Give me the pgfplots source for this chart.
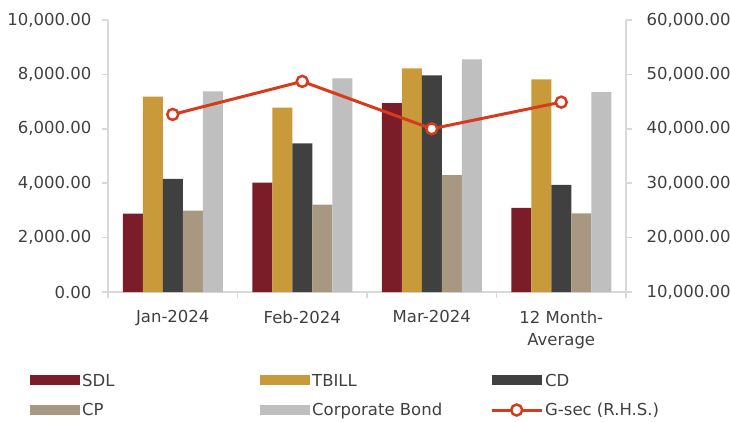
\documentclass[border=0pt]{standalone}
\usepackage{pgfplots}
\pgfplotsset{compat=1.18}
\usepackage{fontspec}
\setmainfont{DejaVu Sans}
\definecolor{sdl}{HTML}{7B1C29}
\definecolor{tbill}{HTML}{C89A3A}
\definecolor{cd}{HTML}{404040}
\definecolor{cp}{HTML}{A89882}
\definecolor{cb}{HTML}{BFBFBF}
\definecolor{gsec}{HTML}{D63C1C}
\definecolor{axgray}{HTML}{D9D9D9}
\definecolor{txt}{HTML}{404040}
\newcommand{\lbl}[1]{\makebox[176pt][l]{\strut #1}}
\pgfplotsset{
  barleg/.style={legend image code/.code={\fill[##1] (0pt,-5pt) rectangle (50pt,5pt);}},
  lineleg/.style={legend image code/.code={\draw[mark repeat=2,mark phase=2,##1] plot coordinates {(0pt,0pt) (25pt,0pt) (50pt,0pt)};}},
}
\begin{document}
\begin{tikzpicture}
\useasboundingbox (0pt,0pt) rectangle (730pt,421pt);
\pgfplotsset{
  common/.style={
    at={(108pt,129pt)}, anchor=south west, scale only axis,
    width=518pt, height=272pt,
    xmin=-0.5, xmax=3.5,
    scaled y ticks=false,
    axis line style={draw=axgray, line width=1.5pt, -},
    tick style={draw=axgray, line width=1.5pt},
    major tick length=6pt,
    tick align=outside,
    ticklabel style={font=\fontsize{16.5}{22}\selectfont, text=txt},
    /pgf/number format/.cd, fixed, fixed zerofill, precision=2, 1000 sep={,}, assume math mode=true,
  }
}
\begin{axis}[common,
  axis x line*=bottom, axis y line*=left,
  ymin=0, ymax=10000, ytick={0,2000,...,10000},
  yticklabel style={xshift=-7pt},
  xtick={0,1,2,3},
  xticklabels={Jan-2024,Feb-2024,Mar-2024,{12 Month-\\Average}},
  xticklabel style={align=center, yshift=-9pt},
  x tick style={draw=none},
  minor xtick={-0.5,0.5,1.5,2.5,3.5},
  minor x tick style={draw=axgray, line width=1.5pt},
  minor tick length=6pt,
  ybar=0pt, bar width=20pt,
  every axis plot/.append style={draw=none},
]
\addplot[fill=sdl]   coordinates {(0,2883) (1,4024) (2,6944) (3,3093)};
\addplot[fill=tbill] coordinates {(0,7180) (1,6775) (2,8222) (3,7817)};
\addplot[fill=cd]    coordinates {(0,4160) (1,5460) (2,7964) (3,3940)};
\addplot[fill=cp]    coordinates {(0,2993) (1,3214) (2,4293) (3,2894)};
\addplot[fill=cb]    coordinates {(0,7375) (1,7853) (2,8553) (3,7349)};
\end{axis}
\begin{axis}[common,
  axis y line*=right, axis x line=none,
  ymin=10000, ymax=60000, ytick={10000,20000,...,60000},
  yticklabel style={xshift=11pt},
  legend columns=3,
  legend cell align=left,
  legend style={at={(axis description cs:-0.1506,-0.289)}, anchor=north west,
    draw=none, fill=none, inner sep=0pt, font=\fontsize{16.5}{19}\selectfont, text=txt,
    row sep=11pt},
]
\addlegendimage{barleg, fill=sdl, draw=none}
\addlegendimage{barleg, fill=tbill, draw=none}
\addlegendimage{barleg, fill=cd, draw=none}
\addlegendimage{barleg, fill=cp, draw=none}
\addlegendimage{barleg, fill=cb, draw=none}
\addplot[color=gsec, line width=3pt, mark=*, mark size=5.5pt,
  mark options={fill=white, draw=gsec, line width=2.5pt}, lineleg]
  coordinates {(0,42640) (1,48715) (2,40000) (3,44900)};
\legend{\lbl{SDL},\lbl{TBILL},\lbl{CD},\lbl{CP},\lbl{Corporate Bond},\strut G-sec (R.H.S.)}
\end{axis}
\end{tikzpicture}
\end{document}
